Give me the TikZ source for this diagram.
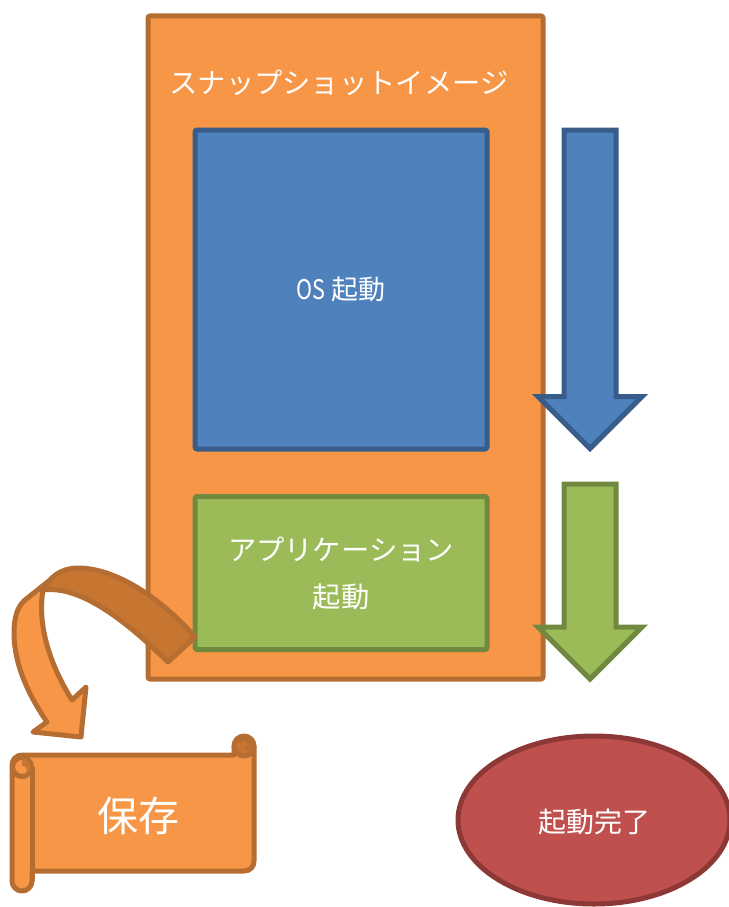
\documentclass[tikz,border=0pt]{standalone}
\usepackage{fontspec}
\newfontfamily\cjk{Noto Sans CJK JP}
\usetikzlibrary{shapes.geometric}
\definecolor{orangefill}{HTML}{F79646}
\definecolor{orangeline}{HTML}{B66D31}
\definecolor{orangedark}{HTML}{C77632}
\definecolor{bluefill}{HTML}{4F81BD}
\definecolor{blueline}{HTML}{385D8A}
\definecolor{greenfill}{HTML}{9BBB59}
\definecolor{greenline}{HTML}{71893F}
\definecolor{redfill}{HTML}{C0504D}
\definecolor{redline}{HTML}{8C3836}
\tikzset{font=\cjk}
\tikzset{shape line/.style={line width=5pt,line join=round}}
\tikzset{box/.style={shape line,rectangle,rounded corners=1.5pt,text=white,align=center,inner sep=0pt}}
\tikzset{jtext/.style={text=white,inner sep=0pt,align=center,font=\cjk\fontsize{#1}{47}\selectfont}}
\tikzset{down arrow/.style={line width=5pt,line join=miter,miter limit=10}}
\begin{document}
\begin{tikzpicture}[x=1pt,y=-1pt]
  \useasboundingbox (0,0) rectangle (728,907);
  % image box
  \node[box,draw=orangeline,fill=orangefill,minimum width=395pt,minimum height=663pt] (image) at (345.5,347.5) {};
  \node[jtext=28.3] (imagelabel) at (339,82.5) {スナップショットイメージ};
  % inner boxes
  \node[box,draw=blueline,fill=bluefill,minimum width=292pt,minimum height=319pt,jtext=27] (os) at (341,289.5) {\scalebox{0.8}[1]{OS} 起動};
  \node[box,draw=greenline,fill=greenfill,minimum width=292pt,minimum height=153pt,jtext=28.3] (app) at (341,573) {アプリケーション\\起動};
  % flow arrows
  \draw[down arrow,draw=blueline,fill=bluefill] (564,130)--(616,130)--(616,396.5)--(642,396.5)--(590,448.5)--(538,396.5)--(564,396.5)--cycle;
  \draw[down arrow,draw=greenline,fill=greenfill] (564,484)--(616,484)--(616,627)--(642,627)--(590,679)--(538,627)--(564,627)--cycle;
  % curved arrow
  \draw[shape line,draw=orangeline,fill=orangefill] (43,590) .. controls (37,625) and (50,665) .. (72,700)
    --(86,687)--(81,737)--(33,732)--(47,722) .. controls (25,690) and (14,660) .. (14,633)
    .. controls (14,618) and (17,607) .. (25,600)--(50,580)--cycle;
  \draw[shape line,draw=orangeline,fill=orangedark] (195,637) .. controls (160,597) and (115,568) .. (78,568)
    .. controls (66,568) and (56,573) .. (50,580)--(43,590) .. controls (80,585) and (125,620) .. (168,662)--cycle;
  % save scroll
  \draw[shape line,draw=orangeline,fill=orangefill] (32,871)--(244,871) .. controls (250,871) and (254,867) .. (254,861)
    --(254,746)--(234,746)--(234,755)--(22,755)
    arc[start angle=-90,end angle=-180,radius=10]--(12,881)
    arc[start angle=180,end angle=0,radius=10]--cycle;
  \draw[shape line,draw=orangeline] (32,767)--(32,881);
  \draw[shape line,draw=orangeline,fill=orangefill] (22,767) circle[radius=9.5];
  \fill[orangedark] (22,758.5) arc[start angle=-90,end angle=90,radius=8.5]
    arc[start angle=90,end angle=-90,radius=5]--cycle;
  \draw[shape line,draw=orangeline,fill=orangedark] (244,746) circle[radius=10];
  \draw[line width=3pt,draw=orangeline] (239,742) arc[start angle=-150,end angle=60,radius=5.5];
  \node[jtext=41] (save) at (138,816) {保存};
  % finish
  \node[shape line,ellipse,draw=redline,fill=redfill,minimum width=272pt,minimum height=168pt] (done) at (594,820) {};
  \node[jtext=28] (donelabel) at (594,822) {起動完了};
\end{tikzpicture}
\end{document}
